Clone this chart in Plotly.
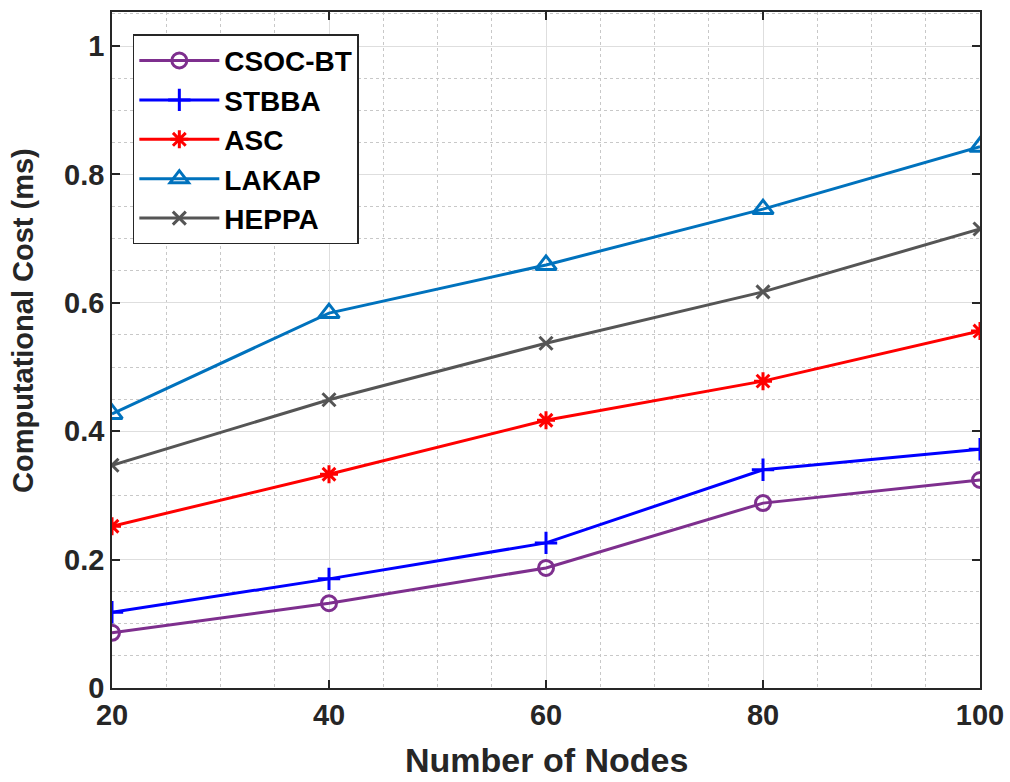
import plotly.graph_objects as go

nodes = [20, 40, 60, 80, 100]
csoc_bt = [0.086, 0.132, 0.187, 0.288, 0.324]
stbba = [0.118, 0.170, 0.226, 0.340, 0.372]
asc = [0.252, 0.333, 0.417, 0.478, 0.556]
lakap = [0.427, 0.584, 0.659, 0.746, 0.843]
heppa = [0.347, 0.449, 0.537, 0.617, 0.715]

series = [
    ("CSOC-BT", csoc_bt, "#7E2F8E", "circle-open", 15),
    ("STBBA", stbba, "#0000FF", "cross-thin-open", 16),
    ("ASC", asc, "#FF0000", "asterisk-open", 15),
    ("LAKAP", lakap, "#0072BD", "triangle-up-open", 18),
    ("HEPPA", heppa, "#555555", "x-thin-open", 13),
]

W, H = 1010, 782
L, R, T, B = 112, 30, 12, 94
PW, PH = W - L - R, H - T - B

fig = go.Figure()
for i, (name, vals, col, sym, sz) in enumerate(series):
    fig.add_trace(go.Scatter(
        x=nodes, y=vals, name=name, mode="lines+markers",
        line=dict(color=col, width=3),
        marker=dict(symbol=sym, size=sz, color=col, line=dict(color=col, width=3)),
        legendgroup=f"g{i}",
    ))

axis_common = dict(
    showline=True, linecolor="#262626", linewidth=1.5, mirror="ticks",
    ticks="inside", ticklen=8, tickwidth=1.5, tickcolor="#262626",
    showgrid=True, gridcolor="#dedede", gridwidth=1,
    zeroline=False, automargin=False,
    tickfont=dict(family="Liberation Sans, Arial", size=29, color="#262626", weight="bold"),
)

fig.update_xaxes(
    range=[20, 100], tickvals=[20, 40, 60, 80, 100],
    minor=dict(dtick=5, showgrid=True, griddash="dot", gridcolor="#c8c8c8", gridwidth=1, ticks=""),
    **axis_common,
)
fig.update_yaxes(
    range=[0, 1.053], tickvals=[0, 0.2, 0.4, 0.6, 0.8, 1], ticktext=["0", "0.2", "0.4", "0.6", "0.8", "1"],
    minor=dict(dtick=0.05, showgrid=True, griddash="dot", gridcolor="#c8c8c8", gridwidth=1, ticks=""),
    **axis_common,
)

fig.add_annotation(
    text="<b>Number of Nodes</b>",
    xref="paper", yref="paper", x=0.5, y=-(781 - (H - B)) / PH, xanchor="center", yanchor="bottom",
    showarrow=False,
    font=dict(family="Liberation Sans, Arial", size=34, color="#262626"),
)
fig.add_annotation(
    text="<b>Computational Cost (ms)</b>", textangle=-90,
    xref="paper", yref="paper", x=-(L - 23) / PW, y=((H - B) - 321) / PH, xanchor="center", yanchor="middle",
    showarrow=False,
    font=dict(family="Liberation Sans, Arial", size=29, color="#262626"),
)

fig.update_layout(
    width=W, height=H,
    margin=dict(l=L, r=R, t=T, b=B),
    paper_bgcolor="white", plot_bgcolor="white",
    legend=dict(
        x=0.024, y=0.967, xanchor="left", yanchor="top",
        bgcolor="white", bordercolor="#262626", borderwidth=1.5,
        font=dict(family="Liberation Sans, Arial", size=28, color="black", weight="bold"),
        tracegroupgap=0, itemwidth=80,
    ),
    showlegend=True,
)

fig.write_html("out.html", config={"displayModeBar": False},
               post_script="document.body.style.margin='0';document.body.style.overflow='hidden';")
